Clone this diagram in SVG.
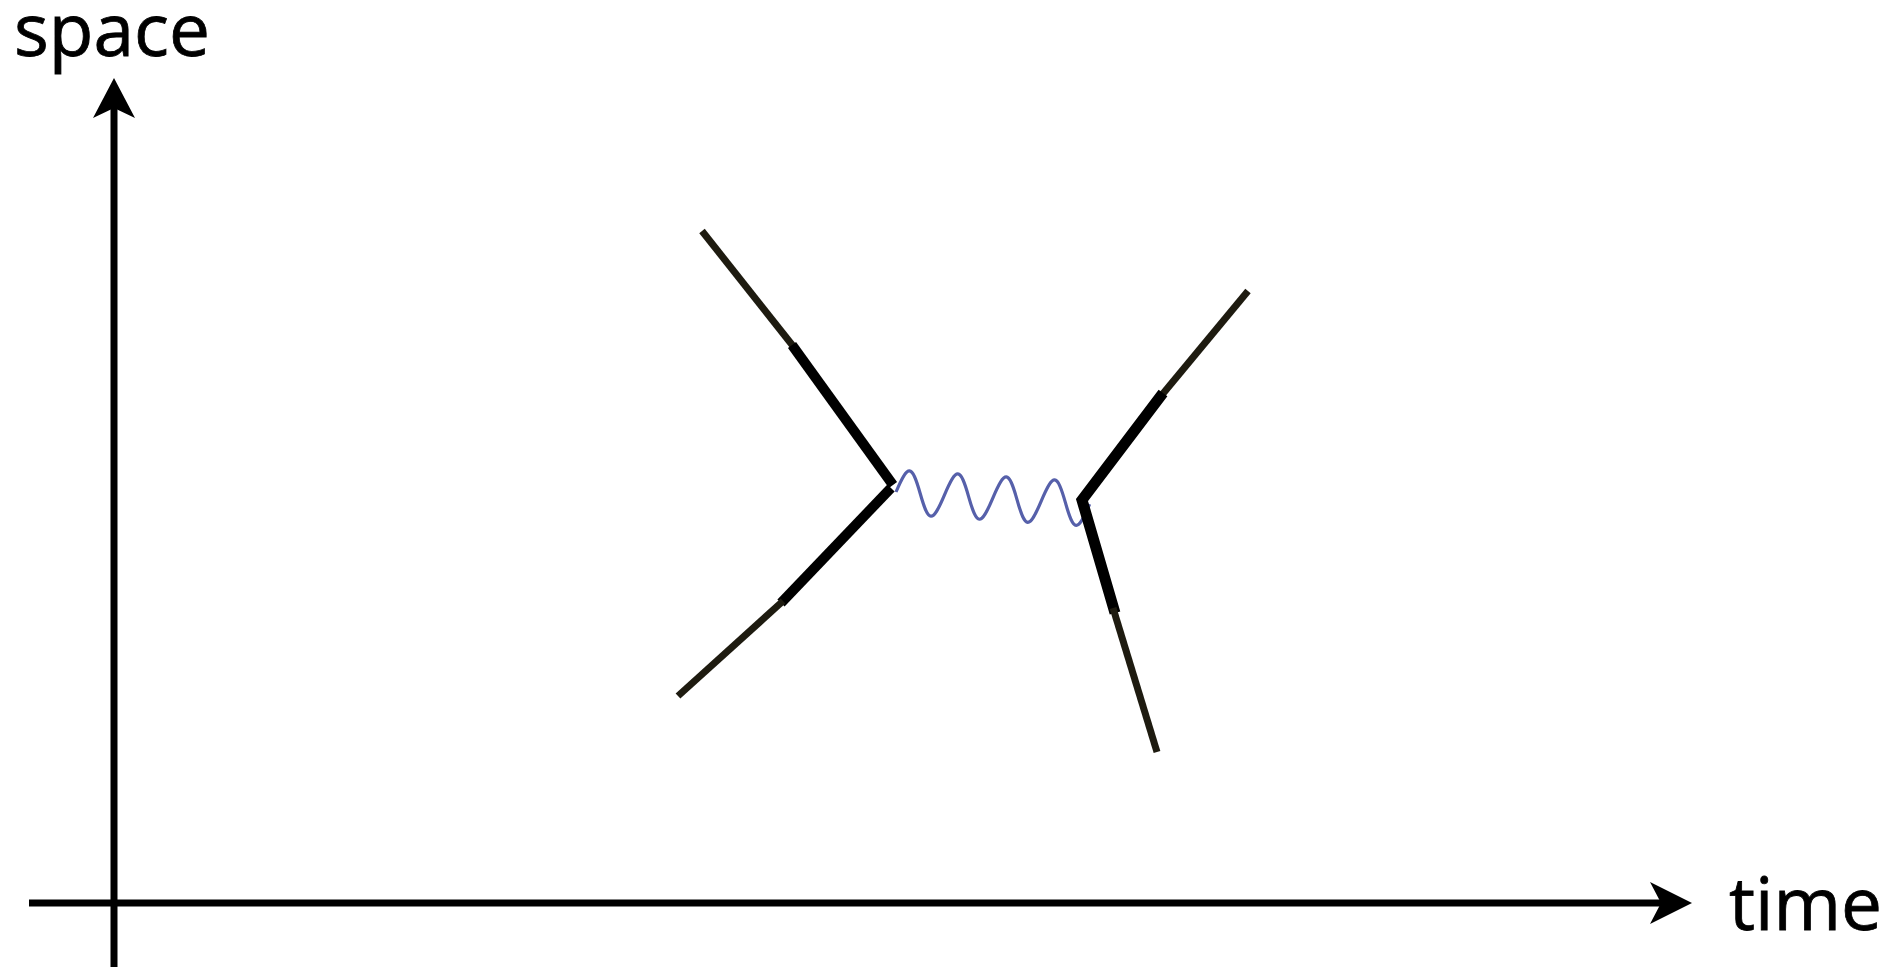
<svg xmlns="http://www.w3.org/2000/svg" width="1895" height="967" viewBox="0 0 1895 967">
  <style>
    .axis { stroke: #000; stroke-width: 7; fill: none; }
    .label { font-family: "Open Sans", "Liberation Sans", sans-serif; font-size: 73px; fill: #000; stroke: #000; stroke-width: 0.8; }
    .thick { stroke: #000; stroke-width: 10; fill: none; stroke-linecap: butt; stroke-linejoin: miter; }
    .thin { stroke: #1e1b10; stroke-width: 7; fill: none; stroke-linecap: butt; }
    .photon { stroke: #5660aa; stroke-width: 3.2; fill: none; }
    .head { fill: #000; }
  </style>
  <rect x="0" y="0" width="1895" height="967" fill="#fff"/>

  <g id="axes">
    <line class="axis" x1="114" y1="100" x2="114" y2="967"/>
    <path class="head" d="M114,78 L135,118 L114,108 L93,118 Z"/>
    <line class="axis" x1="29" y1="903" x2="1668" y2="903"/>
    <path class="head" d="M1692,903 L1650,882 L1661,903 L1650,924 Z"/>
  </g>

  <g id="labels">
    <text class="label" x="14" y="56">space</text>
    <text class="label" x="1729" y="930">time</text>
  </g>

  <g id="connectors">
    <g id="photon">
      <path class="photon" transform="rotate(3.6 896 492)" d="M896,492 c10.3,-29.3 13.95,-29.3 24.25,0 c10.3,29.3 13.95,29.3 24.25,0 c10.3,-29.3 13.95,-29.3 24.25,0 c10.3,29.3 13.95,29.3 24.25,0 c10.3,-29.3 13.95,-29.3 24.25,0 c10.3,29.3 13.95,29.3 24.25,0 c10.3,-29.3 13.95,-29.3 24.25,0 c10.3,29.3 13.95,29.3 24.25,0"/>
    </g>
    <g id="incoming-upper">
      <line class="thin" x1="702" y1="231" x2="793" y2="346"/>
      <line class="thick" x1="792" y1="345" x2="893" y2="485"/>
    </g>
    <g id="incoming-lower">
      <line class="thick" x1="891" y1="488" x2="781" y2="603"/>
      <line class="thin" x1="783" y1="601" x2="678" y2="696"/>
    </g>
    <g id="outgoing">
      <line class="thin" x1="1248" y1="291" x2="1161" y2="396"/>
      <polyline class="thick" style="stroke-width:11" points="1163,393 1082,500 1115,613"/>
      <line class="thin" x1="1113" y1="608" x2="1157" y2="752"/>
    </g>
  </g>
</svg>
